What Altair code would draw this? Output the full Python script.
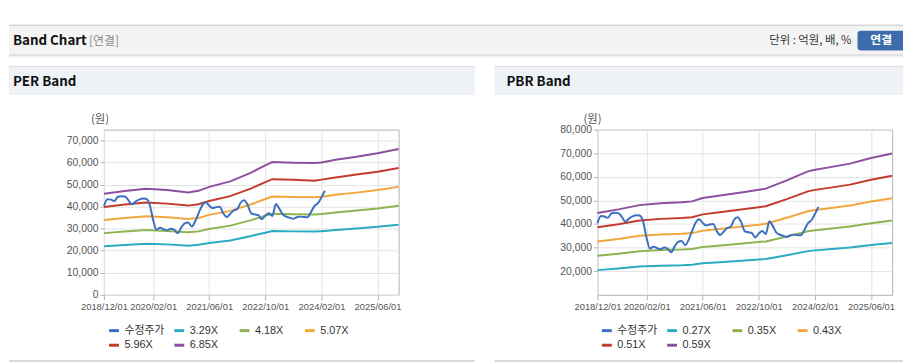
import altair as alt
import pandas as pd

# ---------------- data ----------------
PRICE_NAME = "수정주가"
price = [40300, 43400, 43200, 42600, 44500, 44800, 44600, 43000, 41000, 42300,
         43200, 43700, 43600, 41200, 34000, 29600, 30400, 29800, 29300, 30000,
         29600, 28000, 30500, 32400, 32800, 31000, 33500, 37000, 40500, 42000,
         40500, 39400, 39800, 40000, 37000, 35300, 36800, 38300, 39000, 41800,
         42900, 40800, 37000, 36500, 36200, 34300, 36000, 37000, 35800, 41200,
         39000, 36500, 35500, 35000, 34500, 35200, 35500, 35300, 35200, 37500,
         40300, 41600, 44300, 47300]
price_dates = pd.date_range("2018-12-01", periods=len(price), freq="MS")

band_dates = ["2018-12-01", "2019-06-01", "2019-12-01", "2020-06-01", "2020-12-01",
              "2021-03-01", "2021-06-01", "2021-12-01", "2022-06-01", "2022-10-01",
              "2022-12-01", "2023-06-01", "2023-12-01", "2024-02-01", "2024-06-01",
              "2024-12-01", "2025-06-01", "2025-12-01"]

per_labels = ["3.29X", "4.18X", "5.07X", "5.96X", "6.85X"]
per_329 = [22000, 22600, 23200, 22900, 22300, 22700, 23500, 24700, 26700, 28200,
           29000, 28800, 28700, 28900, 29400, 30100, 30900, 31800]
per_418 = [28000, 28700, 29400, 29000, 28400, 28800, 29900, 31400, 33900, 35900,
           36800, 36600, 36500, 36700, 37400, 38300, 39200, 40400]
per_507 = [34000, 34900, 35700, 35200, 34400, 34900, 36300, 38100, 41100, 43500,
           44600, 44400, 44300, 44500, 45400, 46400, 47600, 49000]
per_596 = [39900, 41000, 41900, 41400, 40500, 41100, 42600, 44800, 48300, 51200,
           52500, 52200, 51800, 52300, 53300, 54600, 55900, 57600]
per_685 = [45900, 47100, 48200, 47600, 46500, 47200, 49000, 51500, 55500, 58800,
           60300, 60000, 59800, 60100, 61300, 62700, 64300, 66200]

pbr_labels = ["0.27X", "0.35X", "0.43X", "0.51X", "0.59X"]
pbr_027 = [20450, 21140, 21960, 22330, 22510, 22700, 23340, 23930, 24530, 24940,
           25170, 26770, 28510, 28830, 29290, 30020, 31120, 31990]
pbr_035 = [26520, 27410, 28470, 28950, 29190, 29420, 30250, 31020, 31800, 32330,
           32630, 34700, 36960, 37370, 37960, 38910, 40340, 41460]
pbr_043 = [32580, 33670, 34980, 35570, 35860, 36150, 37170, 38120, 39060, 39720,
           40080, 42630, 45400, 45910, 46640, 47810, 49560, 50940]
pbr_051 = [38640, 39940, 41490, 42180, 42530, 42870, 44080, 45210, 46330, 47110,
           47540, 50570, 53850, 54460, 55320, 56700, 58780, 60420]
pbr_059 = [44700, 46200, 48000, 48800, 49200, 49600, 51000, 52300, 53600, 54500,
           55000, 58500, 62300, 63000, 64000, 65600, 68000, 69900]

x_ticks = [(2018, 12), (2020, 2), (2021, 6), (2022, 10), (2024, 2), (2025, 6)]
per_yticks = [0, 10000, 20000, 30000, 40000, 50000, 60000, 70000]
pbr_yticks = [20000, 30000, 40000, 50000, 60000, 70000, 80000]

series_colors = ["#3d6fc1", "#2aabc4", "#8db451", "#f2a73e", "#c23b2d", "#8c4f9f"]

# ---------------- layout constants ----------------
PW, PH = 298, 167          # plot size
OY = 128                   # page y of plot top
OX_L, OX_R = 104, 603      # page x of plot left
KFONT = "Noto Sans CJK KR"
LFONT = "Liberation Sans, Noto Sans CJK KR"

dummy = pd.DataFrame({"k": [0]})


def rect(ox, x1, y1, x2, y2, color, **kw):
    return alt.Chart(dummy).mark_rect(color=color, **kw).encode(
        x=alt.value(x1 - ox), x2=alt.value(x2 - ox),
        y=alt.value(y1 - OY), y2=alt.value(y2 - OY))


def text(ox, x, y, s, size=12, color="#222", weight="normal", align="left", font=KFONT):
    return alt.Chart(dummy).mark_text(
        text=s, fontSize=size, color=color, fontWeight=weight, align=align,
        baseline="middle", font=font).encode(x=alt.value(x - ox), y=alt.value(y - OY))


def build_df(labels, bands):
    rows = [{"date": d, "value": v, "series": PRICE_NAME} for d, v in zip(price_dates, price)]
    for lab, vals in zip(labels, bands):
        rows += [{"date": pd.Timestamp(d), "value": v, "series": lab}
                 for d, v in zip(band_dates, vals)]
    return pd.DataFrame(rows)


def panel(ox, labels, bands, ydomain, yticks, legend_x, decor):
    df = build_df(labels, bands)
    domain = [PRICE_NAME] + labels
    x_enc = alt.X("date:T",
                  scale=alt.Scale(domain=[alt.DateTime(year=2018, month=12, date=1),
                                          alt.DateTime(year=2025, month=12, date=1)],
                                  nice=False),
                  axis=alt.Axis(values=[alt.DateTime(year=y, month=m, date=1) for y, m in x_ticks],
                                format="%Y/%m/%d", title=None, labelFontSize=9.5,
                                labelFont="Liberation Sans", labelColor="#555",
                                tickSize=5, tickColor="#b4b4b4", domain=False,
                                gridColor="#e4e4e4", labelPadding=2,
                                labelFlush=False, labelOverlap=False))
    y_enc = alt.Y("value:Q",
                  scale=alt.Scale(domain=ydomain, nice=False, zero=False),
                  axis=alt.Axis(values=yticks, format=",.0f", title=None, labelFontSize=10.5,
                                labelFont="Liberation Sans", labelColor="#555",
                                tickSize=4, tickColor="#b4b4b4", domain=False,
                                gridColor="#e4e4e4", labelPadding=2))
    c_enc = alt.Color("series:N",
                      scale=alt.Scale(domain=domain, range=series_colors),
                      sort=domain,
                      legend=alt.Legend(orient="none", legendX=legend_x, legendY=196.5,
                                        direction="horizontal", columns=4, gridAlign="all",
                                        title=None, symbolType="stroke", symbolSize=100,
                                        symbolStrokeWidth=3, labelFontSize=11,
                                        labelFont=LFONT, labelColor="#333", labelOffset=4,
                                        columnPadding=3, rowPadding=2, padding=0))
    bands_layer = alt.Chart(df[df.series != PRICE_NAME]).mark_line(strokeWidth=2).encode(
        x=x_enc, y=y_enc, color=c_enc)
    price_layer = alt.Chart(df[df.series == PRICE_NAME]).mark_line(
        strokeWidth=2, interpolate="monotone").encode(x=x_enc, y=y_enc, color=c_enc)
    return alt.layer(*decor, bands_layer, price_layer).properties(width=PW, height=PH)


# decorations, left panel (also holds page header)
L = OX_L
decor_left = [
    rect(L, 8, 22, 912, 23, "#b8b8b8"),
    rect(L, 8, 23, 912, 52, "#f4f4f4"),
    rect(L, 8, 52, 912, 53, "#c9c9c9"),
    rect(L, 8, 53, 912, 54, "#e2e2e2"),
    rect(L, 8, 54, 912, 55, "#f1f1f1"),
    text(L, 12, 38, "Band Chart", size=13.5, color="#111", weight="bold"),
    text(L, 89, 38.5, "[연결]", size=12, color="#888"),
    text(L, 860, 38.5, "단위 : 억원, 배, %", size=11.5, color="#333", align="right"),
    rect(L, 866, 28, 912, 48, "#3d6cac", cornerRadiusTopLeft=3, cornerRadiusBottomLeft=3),
    text(L, 890, 37.5, "연결", size=12, color="#ffffff", weight="bold", align="center"),
    rect(L, 8, 64, 479, 65, "#d4d4d4"),
    rect(L, 8, 65, 479, 93, "#eef2f7"),
    text(L, 12, 79.5, "PER Band", size=13.5, color="#111", weight="bold"),
    rect(L, 8, 361, 479, 363, "#d9d9d9"),
    text(L, 100, 118, "(원)", size=11.5, color="#555", align="center"),
]

R = OX_R
decor_right = [
    rect(R, 499, 64, 912, 65, "#d4d4d4"),
    rect(R, 499, 65, 912, 93, "#eef2f7"),
    text(R, 511, 79.5, "PBR Band", size=13.5, color="#111", weight="bold"),
    rect(R, 499, 361, 912, 363, "#d9d9d9"),
    text(R, 598, 118, "(원)", size=11.5, color="#555", align="center"),
]

left = panel(OX_L, per_labels, [per_329, per_418, per_507, per_596, per_685],
             [0, 75000], per_yticks, 3.7, decor_left)
right = panel(OX_R, pbr_labels, [pbr_027, pbr_035, pbr_043, pbr_051, pbr_059],
              [10000, 80000], pbr_yticks, 3, decor_right)

chart = alt.hconcat(left, right, spacing=OX_R - OX_L - PW, bounds="flush").resolve_scale(
    x="independent", y="independent", color="independent"
).properties(
    padding={"top": 14, "left": 0, "right": 0, "bottom": 0}
).configure_view(stroke="#b4b4b4", strokeWidth=1)

chart.save("out.html", embed_options={"renderer": "svg", "actions": False})
